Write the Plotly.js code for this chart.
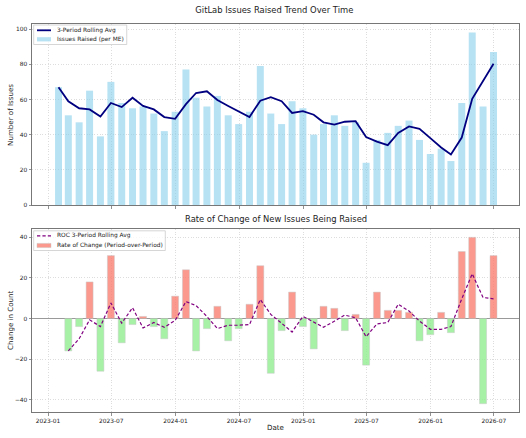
<!DOCTYPE html>
<html>
<head>
<meta charset="utf-8">
<script src="https://cdn.plot.ly/plotly-3.0.1.min.js"></script>
<style>html,body{margin:0;padding:0;background:#fff;}#chart{width:526px;height:438px;}</style>
</head>
<body>
<div id="chart"></div>
<script>
// Month-end dates
const dates = [
  '2023-01-31','2023-02-28','2023-03-31','2023-04-30','2023-05-31','2023-06-30',
  '2023-07-31','2023-08-31','2023-09-30','2023-10-31','2023-11-30','2023-12-31',
  '2024-01-31','2024-02-29','2024-03-31','2024-04-30','2024-05-31','2024-06-30',
  '2024-07-31','2024-08-31','2024-09-30','2024-10-31','2024-11-30','2024-12-31',
  '2025-01-31','2025-02-28','2025-03-31','2025-04-30','2025-05-31','2025-06-30',
  '2025-07-31','2025-08-31','2025-09-30','2025-10-31','2025-11-30','2025-12-31',
  '2026-01-31','2026-02-28','2026-03-31','2026-04-30','2026-05-31','2026-06-30'
];
// Issues raised per month-end
const issues = [67,51,47,65,39,70,58,55,56,52,42,53,77,61,56,62,51,46,53,79,52,46,59,55,40,46,51,45,47,24,37,41,45,48,37,29,32,25,58,98,56,87];
// 3-period rolling average of issues
const rollingAvg = [67,59,55,54.33,50.33,58,55.67,61,56.33,54.33,50,49,57.33,63.67,64.67,59.67,56.33,53,50,59.33,61.33,59,52.33,53.33,51.33,47,45.67,47.33,47.67,38.67,36,34,41,44.67,43.33,38,32.67,28.67,38.33,60.33,70.67,80.33];
// Rate of change (period-over-period), from 2nd month
const rocDates = dates.slice(1);
const roc = [-16,-4,18,-26,31,-12,-3,1,-4,-10,11,24,-16,-5,6,-11,-5,7,26,-27,-6,13,-4,-15,6,5,-6,2,-23,13,4,4,3,-11,-8,3,-7,33,40,-42,31];
// 3-period rolling average of rate of change
const rocAvg = [-16,-10,-0.67,-4,7.67,-2.33,5.33,-4.67,-2,-4.33,-1,8.33,6.33,1,-5,-3.33,-3.33,-3,9.33,2,-2.33,-6.67,1,-2,-4.33,-1.33,1.67,0.33,-9,-2.67,-2,7,3.67,-1.33,-5.33,-5.33,-4,9.67,22,10.33,9.67];

// Legend labels
const legendTop = ['3-Period Rolling Avg', 'Issues Raised (per ME)'];
const legendBottom = ['ROC 3-Period Rolling Avg', 'Rate of Change (Period-over-Period)'];

const BARW = 20*86400000;
const FONT = 'DejaVu Sans, sans-serif';
const C_NAVY = '#000080', C_SKY = 'rgba(135,206,235,0.6)';
const C_PURPLE = '#800080', C_SALMON = 'rgba(250,128,114,0.8)', C_GREEN = 'rgba(144,238,144,0.8)';
const EDGE = 'rgba(200,200,200,0.8)';
const ROCDASH = '3.3px,2.1px';

const rocPos = roc.map(v => v >= 0 ? v : null);
const rocNeg = roc.map(v => v < 0 ? v : null);

const traces = [
  {type:'scatter', mode:'lines', x:dates, y:rollingAvg, name:legendTop[0],
   line:{color:C_NAVY, width:1.8}, xaxis:'x', yaxis:'y'},
  {type:'bar', x:dates, y:issues, name:legendTop[1], width:BARW,
   marker:{color:C_SKY, line:{width:0}}, xaxis:'x', yaxis:'y'},
  {type:'scatter', mode:'lines', x:rocDates, y:rocAvg, name:legendBottom[0],
   line:{color:C_PURPLE, width:1.2, dash:ROCDASH}, xaxis:'x2', yaxis:'y2'},
  {type:'bar', x:rocDates, y:rocPos, name:legendBottom[1], width:BARW,
   marker:{color:C_SALMON, line:{width:0.6, color:EDGE}}, xaxis:'x2', yaxis:'y2'},
  {type:'bar', x:rocDates, y:rocNeg, name:'negative', width:BARW,
   marker:{color:C_GREEN, line:{width:0.6, color:EDGE}}, xaxis:'x2', yaxis:'y2'}
];

// Plot area in pixels
const PL = 32.3, PR = 519, PT = 24, PB = 412;
const px = x => (x - PL) / (PR - PL);
const py = y => (PB - y) / (PB - PT);

const xRange = ['2022-11-16','2026-09-11'];
const axisCommon = {
  showline:true, mirror:true, linecolor:'#777', linewidth:1,
  ticks:'outside', ticklen:2.5, tickcolor:'#777', tickwidth:0.8,
  showgrid:true, gridcolor:'#d4d4d4', griddash:'1px,1.6px', gridwidth:0.8,
  zeroline:false, tickfont:{family:FONT, size:5.9, color:'#222'}
};

// Custom legend boxes (matplotlib style)
function legendShapes(box, rows, lineStyle, patchStyle) {
  const s = [];
  s.push({type:'rect', xref:'paper', yref:'paper', x0:px(box[0]), x1:px(box[1]), y0:py(box[2]), y1:py(box[3]),
          fillcolor:'rgba(255,255,255,0.8)', line:{color:'#cccccc', width:0.8}, layer:'above'});
  s.push({type:'line', xref:'paper', yref:'paper', x0:px(37.3), x1:px(51.3), y0:py(rows[0]), y1:py(rows[0]),
          line:lineStyle, layer:'above'});
  s.push({type:'rect', xref:'paper', yref:'paper', x0:px(37.3), x1:px(51.3), y0:py(rows[1]-2.1), y1:py(rows[1]+2.1),
          fillcolor:patchStyle.fill, line:{color:patchStyle.edge, width:patchStyle.ew}, layer:'above'});
  return s;
}
function legendTexts(rows, labels) {
  return labels.map((t, i) => ({text:t, xref:'paper', yref:'paper', x:px(55.5), y:py(rows[i]),
    xanchor:'left', yanchor:'middle', showarrow:false, font:{family:FONT, size:5.9, color:'#222'}}));
}
const rowsTop = [30.3, 39.3], rowsBot = [235.8, 245.5];

const shapes = [].concat(
  legendShapes([34, 127, 25, 44.5], rowsTop, {color:C_NAVY, width:1.8}, {fill:C_SKY, edge:'rgba(0,0,0,0)', ew:0}),
  legendShapes([34, 165.5, 230.8, 250.5], rowsBot, {color:C_PURPLE, width:1.2, dash:ROCDASH}, {fill:C_SALMON, edge:EDGE, ew:0.6})
);

const layout = {
  width:526, height:438,
  margin:{l:PL, r:526-PR, t:PT, b:438-PB},
  paper_bgcolor:'#fff', plot_bgcolor:'#fff',
  barmode:'overlay', showlegend:false,
  font:{family:FONT, color:'#222'},
  title:{text:'GitLab Issues Raised Trend Over Time', font:{family:FONT, size:8.4, color:'#222'},
         x:px(274.5), xref:'paper', xanchor:'center', y:1-10/438, yref:'container', yanchor:'middle'},
  xaxis:Object.assign({}, axisCommon, {domain:[0,1], range:xRange, type:'date', anchor:'y',
         tick0:'2023-01-01', dtick:'M6', showticklabels:false}),
  yaxis:Object.assign({}, axisCommon, {domain:[py(205),1], range:[0,102.9], dtick:20, anchor:'x'}),
  xaxis2:Object.assign({}, axisCommon, {domain:[0,1], range:xRange, type:'date', anchor:'y2',
         tick0:'2023-01-01', dtick:'M6', tickformat:'%Y-%m'}),
  yaxis2:Object.assign({}, axisCommon, {domain:[0,py(229)], range:[-46.1,44.1], dtick:20, anchor:'x2',
         zeroline:true, zerolinecolor:'#999', zerolinewidth:1.2}),
  shapes:shapes,
  annotations:[
    {text:'Rate of Change of New Issues Being Raised', xref:'paper', yref:'paper', x:0.5, y:py(219.3),
     xanchor:'center', yanchor:'middle', showarrow:false, font:{family:FONT, size:8.4, color:'#222'}},
    {text:'Number of Issues', xref:'paper', yref:'paper', x:px(10.7), y:py(114.5),
     xanchor:'center', yanchor:'middle', textangle:-90, showarrow:false, font:{family:FONT, size:7.1, color:'#222'}},
    {text:'Change in Count', xref:'paper', yref:'paper', x:px(10.7), y:py(320.5),
     xanchor:'center', yanchor:'middle', textangle:-90, showarrow:false, font:{family:FONT, size:7.1, color:'#222'}},
    {text:'Date', xref:'paper', yref:'paper', x:0.5, y:py(427.5),
     xanchor:'center', yanchor:'middle', showarrow:false, font:{family:FONT, size:7.1, color:'#222'}}
  ].concat(legendTexts(rowsTop, legendTop), legendTexts(rowsBot, legendBottom))
};

Plotly.newPlot('chart', traces, layout, {staticPlot:true, displayModeBar:false});
</script>
</body>
</html>
